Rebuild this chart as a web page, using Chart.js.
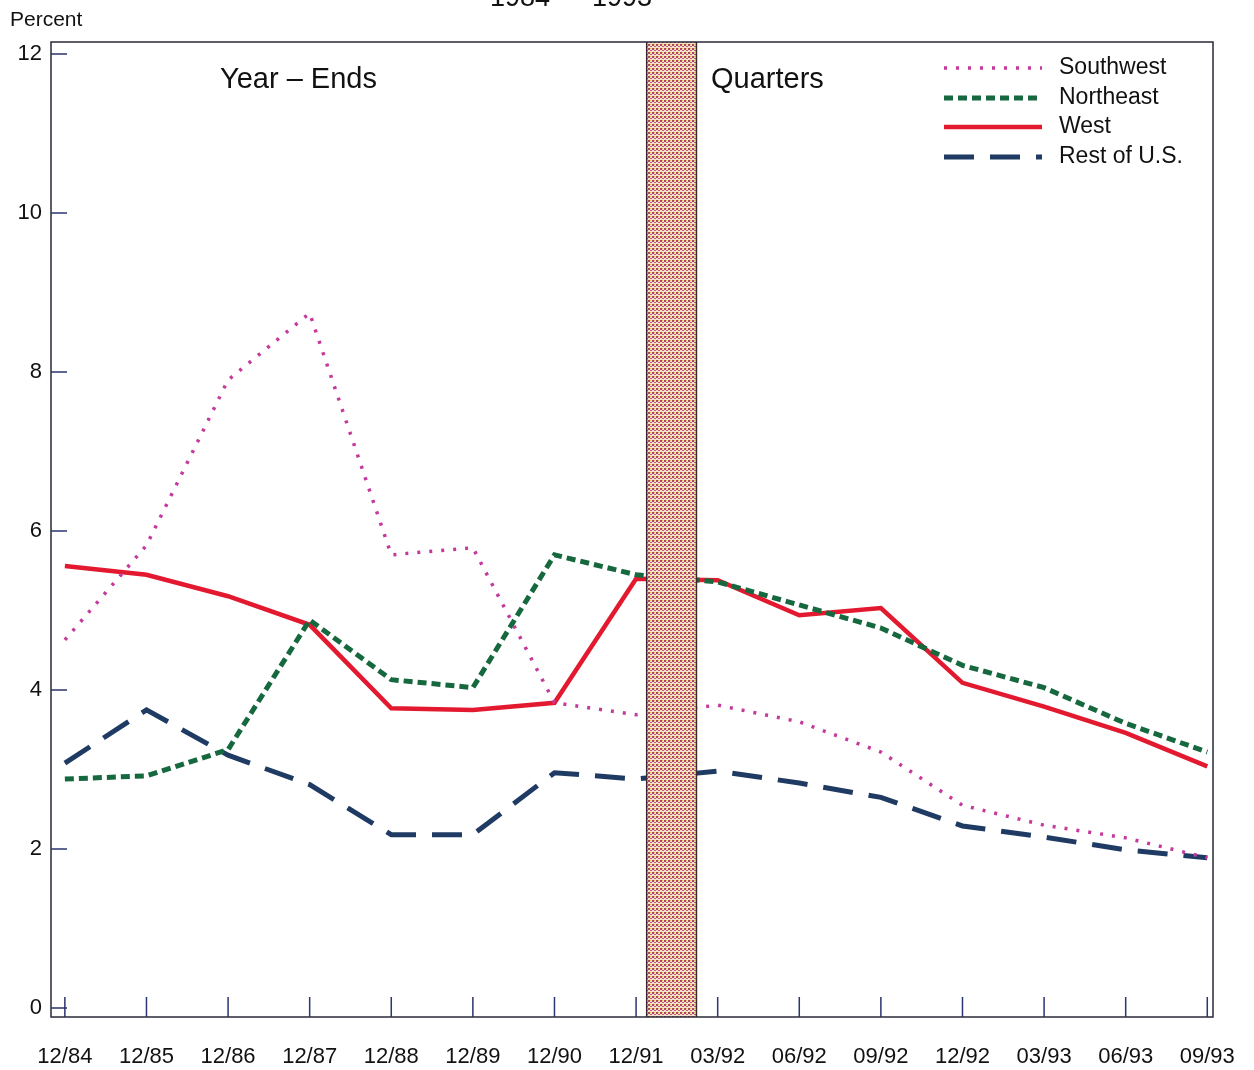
<!DOCTYPE html>
<html>
<head>
<meta charset="utf-8">
<title>Regional rates 1984 - 1993</title>
<script src="https://cdn.jsdelivr.net/npm/chart.js@4.4.1/dist/chart.umd.min.js"></script>
<style>
  body { margin: 0; background: #fff; }
  canvas { display: block; }
</style>
</head>
<body>
<canvas id="rateChart" width="1254" height="1070"></canvas>
<script>
// ---- data ----
const periods = ['12/84', '12/85', '12/86', '12/87', '12/88', '12/89', '12/90', '12/91',
                 '03/92', '06/92', '09/92', '12/92', '03/93', '06/93', '09/93'];
const southwest = [4.63, 5.82, 7.90, 8.74, 5.70, 5.79, 3.84, 3.69, 3.81, 3.60, 3.22, 2.55, 2.30, 2.14, 1.89];
const northeast = [2.88, 2.92, 3.25, 4.88, 4.13, 4.03, 5.70, 5.45, 5.36, 5.07, 4.78, 4.31, 4.03, 3.58, 3.22];
const west      = [5.56, 5.45, 5.18, 4.82, 3.77, 3.75, 3.84, 5.40, 5.38, 4.94, 5.03, 4.09, 3.79, 3.46, 3.04];
const restOfUS  = [3.08, 3.75, 3.18, 2.81, 2.18, 2.18, 2.96, 2.88, 2.98, 2.83, 2.65, 2.29, 2.15, 1.99, 1.89];
const yTicks = [0, 2, 4, 6, 8, 10, 12];
// break between year-end and quarterly data (in category units)
const breakFrom = 7.13;
const breakTo = 7.74;

const FONT = '"Liberation Sans", Arial, sans-serif';
const INK = '#111111';
const AXIS = '#2b3570';

function toPoints(values) {
    return values.map((v, i) => ({ x: i, y: v }));
}

// halftone pattern for the break bar
function makeHatch() {
    const c = document.createElement('canvas');
    c.width = 4;
    c.height = 4;
    const g = c.getContext('2d');
    g.fillStyle = '#f2e2cc';
    g.fillRect(0, 0, 4, 4);
    g.fillStyle = '#ae4265';
    g.fillRect(0, 0, 2, 2);
    g.fillStyle = '#c4587a';
    g.fillRect(2, 2, 2, 1);
    g.fillStyle = '#dcc050';
    g.fillRect(2, 0, 1, 1);
    return g.createPattern(c, 'repeat');
}

const seriesStyle = [
    { label: 'Southwest', data: southwest, color: '#c43a9c', width: 3.5, dash: [3, 9] },
    { label: 'Northeast', data: northeast, color: '#16683f', width: 5, dash: [9, 5] },
    { label: 'West', data: west, color: '#e2192f', width: 4.5, dash: [] },
    { label: 'Rest of U.S.', data: restOfUS, color: '#1f3b63', width: 5, dash: [30, 16] }
];

const framePlugin = {
    id: 'frame',
    afterDatasetsDraw(chart) {
        const ctx = chart.ctx;
        const a = chart.chartArea;
        const xs = chart.scales.x;
        const ys = chart.scales.y;

        // break bar
        const bx0 = xs.getPixelForValue(breakFrom);
        const bx1 = xs.getPixelForValue(breakTo);
        ctx.save();
        ctx.fillStyle = makeHatch();
        ctx.fillRect(bx0, a.top, bx1 - bx0, a.bottom - a.top);
        ctx.strokeStyle = '#3a2a30';
        ctx.lineWidth = 1.5;
        ctx.beginPath();
        ctx.moveTo(bx0, a.top); ctx.lineTo(bx0, a.bottom);
        ctx.moveTo(bx1, a.top); ctx.lineTo(bx1, a.bottom);
        ctx.stroke();

        // frame
        ctx.strokeStyle = '#2a2a3a';
        ctx.lineWidth = 1.5;
        ctx.strokeRect(a.left, a.top, a.right - a.left, a.bottom - a.top);

        // inward ticks
        ctx.strokeStyle = AXIS;
        ctx.lineWidth = 1.5;
        ctx.beginPath();
        yTicks.forEach(v => {
            const y = ys.getPixelForValue(v);
            ctx.moveTo(a.left, y);
            ctx.lineTo(a.left + 16, y);
        });
        periods.forEach((p, i) => {
            const x = xs.getPixelForValue(i);
            ctx.moveTo(x, a.bottom);
            ctx.lineTo(x, a.bottom - 20);
        });
        ctx.stroke();
        ctx.restore();
    },
    afterDraw(chart) {
        const ctx = chart.ctx;
        ctx.save();
        ctx.fillStyle = INK;
        ctx.textBaseline = 'middle';
        ctx.textAlign = 'left';

        ctx.font = '21px ' + FONT;
        ctx.fillText('Percent', 10, 20);

        ctx.font = '29px ' + FONT;
        ctx.fillText('Year \u2013 Ends', 220, 80);
        ctx.fillText('Quarters', 711, 80);

        // title, cut off by the top edge
        ctx.textAlign = 'center';
        ctx.textBaseline = 'alphabetic';
        ctx.font = '27px ' + FONT;
        ctx.fillText('1984 \u2014 1993', 571, 6);

        // legend
        ctx.textAlign = 'left';
        ctx.textBaseline = 'middle';
        ctx.font = '23px ' + FONT;
        const rows = [68, 98, 127, 157];
        seriesStyle.forEach((s, i) => {
            const y = rows[i];
            ctx.strokeStyle = s.color;
            ctx.lineWidth = s.width;
            ctx.setLineDash(s.dash);
            ctx.beginPath();
            ctx.moveTo(944, y);
            ctx.lineTo(1042, y);
            ctx.stroke();
            ctx.setLineDash([]);
            ctx.fillStyle = INK;
            ctx.fillText(s.label, 1059, y);
        });
        ctx.restore();
    }
};

const chart = new Chart(document.getElementById('rateChart'), {
    type: 'line',
    data: {
        datasets: seriesStyle.map(s => ({
            label: s.label,
            data: toPoints(s.data),
            borderColor: s.color,
            borderWidth: s.width,
            borderDash: s.dash,
            pointRadius: 0,
            tension: 0,
            fill: false
        }))
    },
    options: {
        responsive: false,
        animation: false,
        layout: { padding: { top: 42, right: 41, left: 0, bottom: 0 } },
        plugins: {
            legend: { display: false },
            tooltip: { enabled: false }
        },
        scales: {
            x: {
                type: 'linear',
                min: -0.17,
                max: 14.07,
                afterBuildTicks: scale => { scale.ticks = periods.map((p, i) => ({ value: i })); },
                afterFit: scale => {
                    scale.height = 53;
                    scale.paddingLeft = 0;
                    scale.paddingRight = 0;
                },
                ticks: {
                    callback: value => periods[value],
                    autoSkip: false,
                    maxRotation: 0,
                    padding: 27,
                    color: INK,
                    font: { family: FONT, size: 22 }
                },
                grid: { display: false, drawTicks: false },
                border: { display: false }
            },
            y: {
                min: -0.113,
                max: 12.151,
                afterBuildTicks: scale => { scale.ticks = yTicks.map(v => ({ value: v })); },
                afterFit: scale => {
                    scale.width = 51;
                    scale.paddingTop = 0;
                    scale.paddingBottom = 0;
                },
                ticks: {
                    padding: 9,
                    color: INK,
                    font: { family: FONT, size: 22 }
                },
                grid: { display: false, drawTicks: false },
                border: { display: false }
            }
        }
    },
    plugins: [framePlugin]
});
</script>
</body>
</html>
